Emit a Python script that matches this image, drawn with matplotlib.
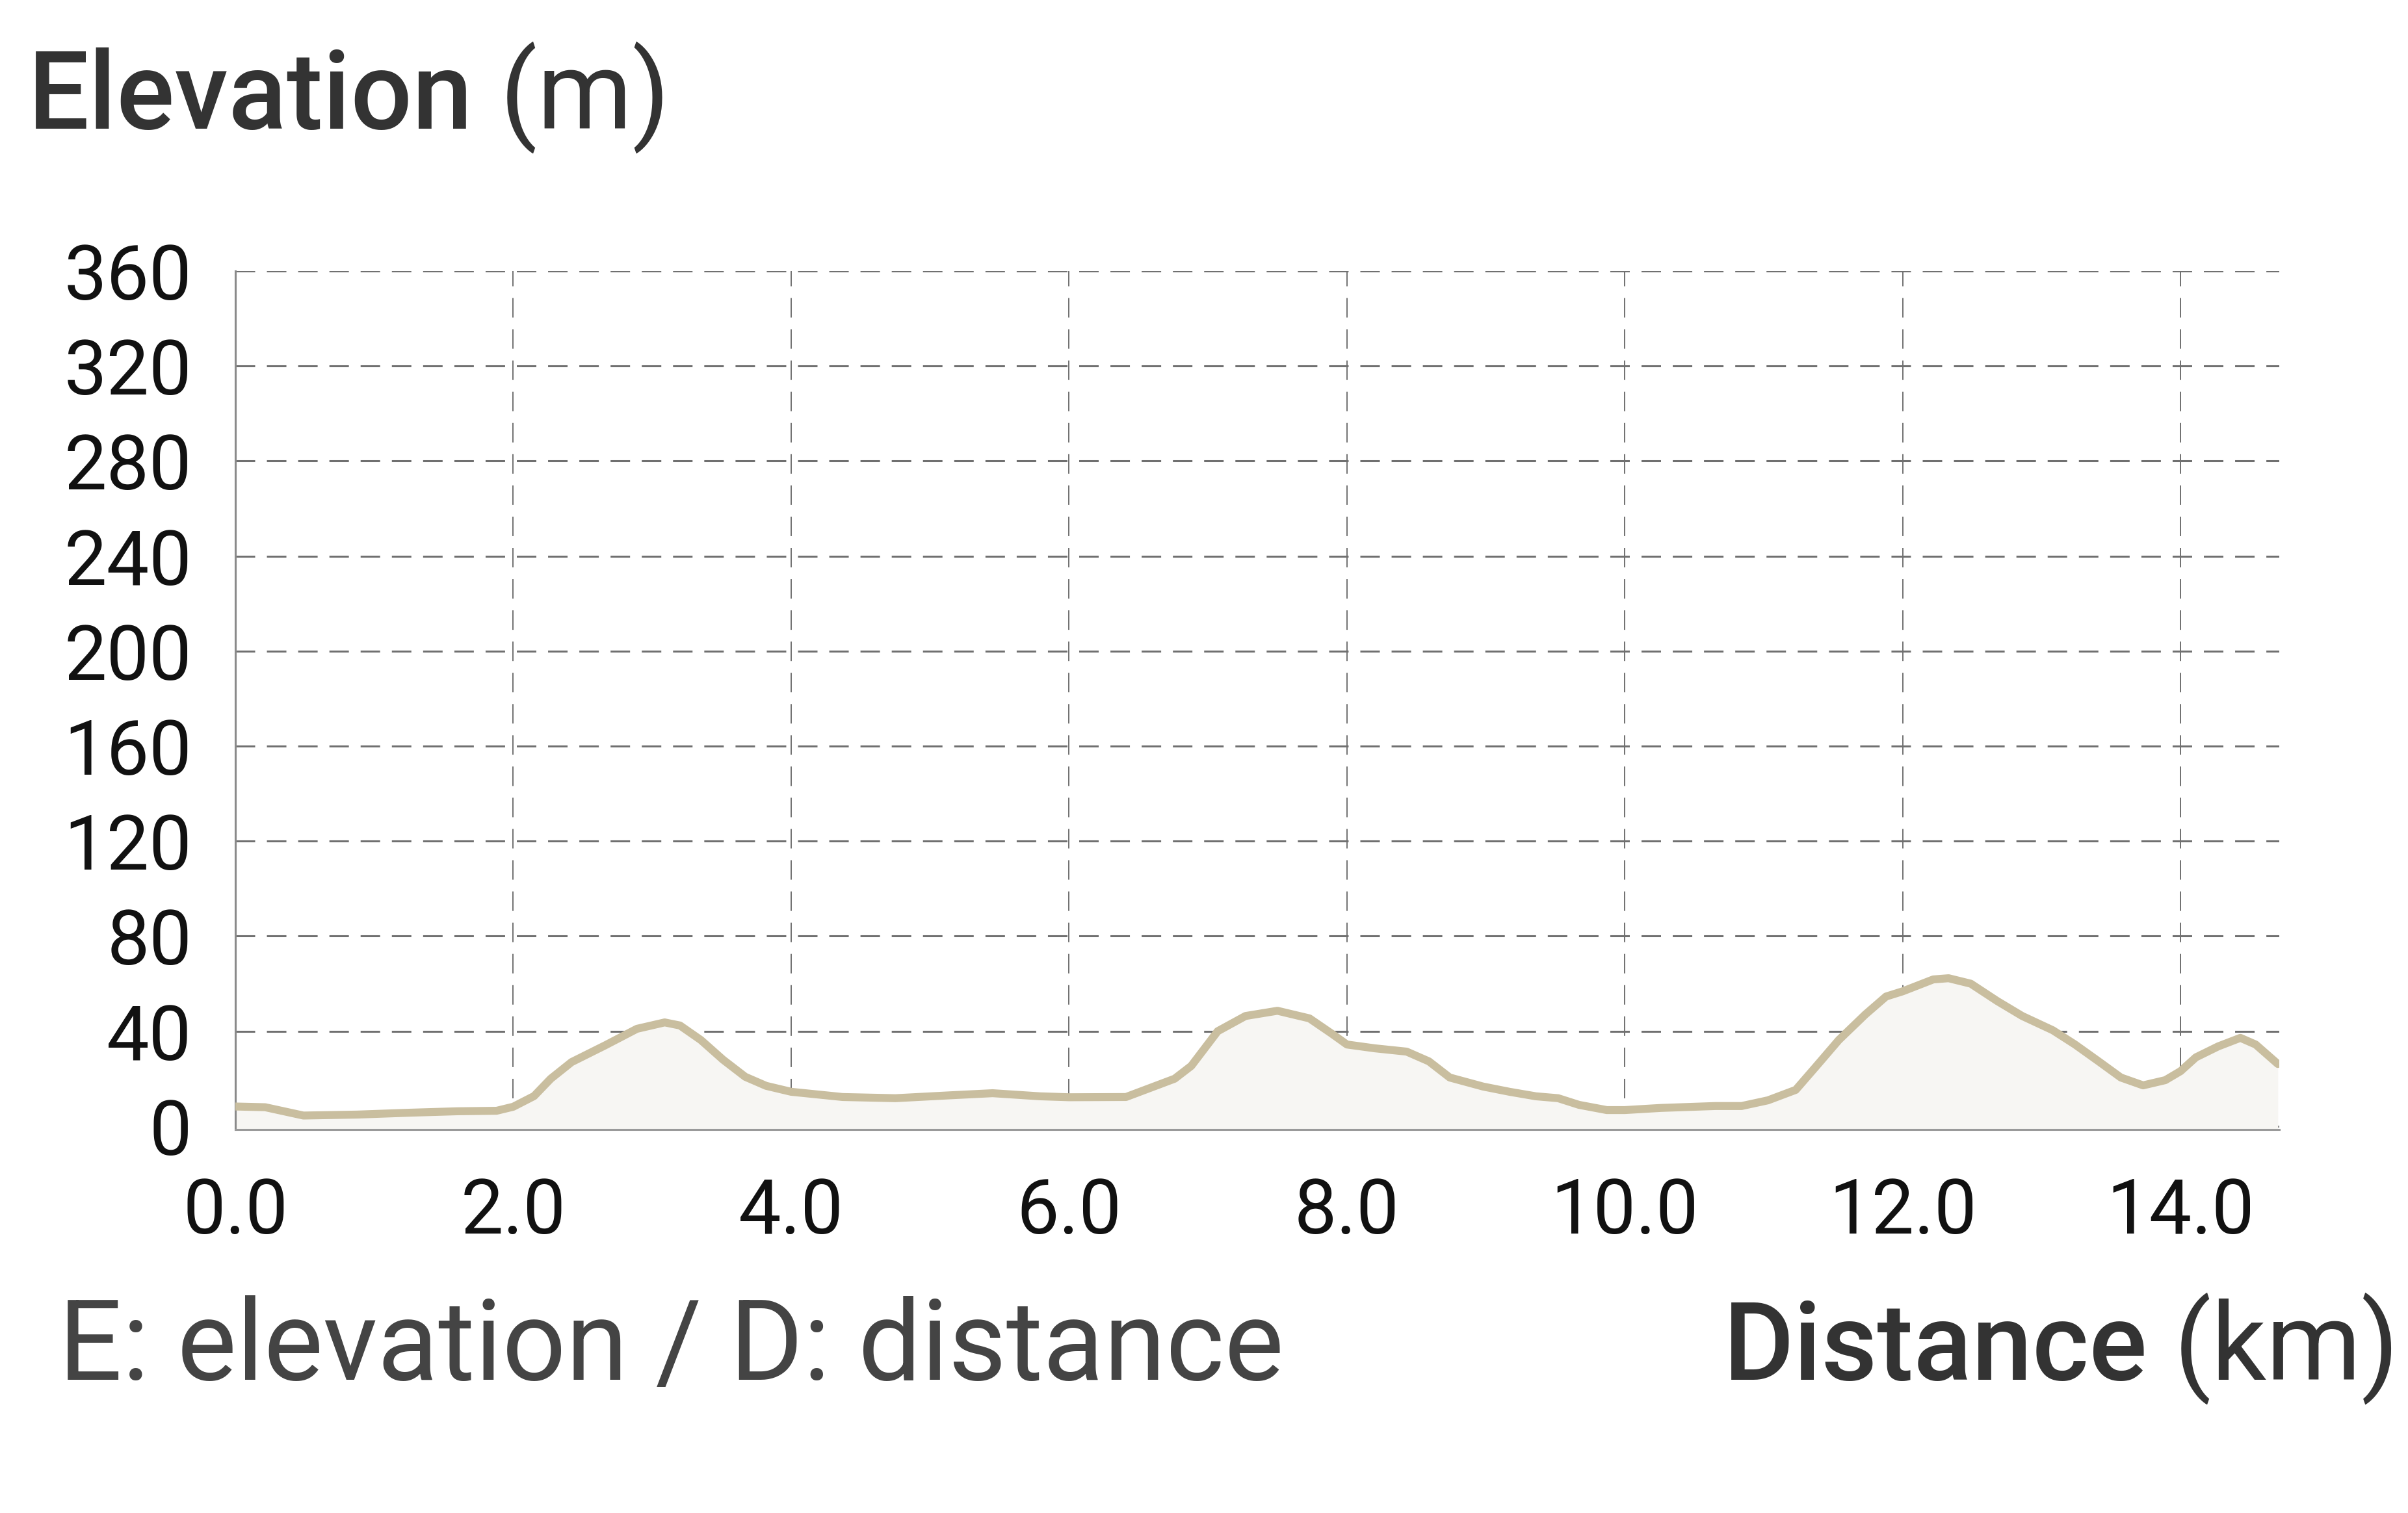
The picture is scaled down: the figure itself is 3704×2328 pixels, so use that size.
import matplotlib
matplotlib.use("Agg")
import matplotlib.pyplot as plt
from matplotlib.ticker import FixedLocator

plt.rcParams['font.family'] = ['Roboto', 'DejaVu Sans']
plt.rcParams['lines.scale_dashes'] = False

# ---- data ----
distance_km = [0.0, 0.215, 0.49, 0.875, 1.26, 1.6, 1.88, 2.0, 2.15, 2.27, 2.42, 2.66, 2.89,
               3.09, 3.2, 3.35, 3.51, 3.67, 3.82, 4.0, 4.37, 4.75, 5.14, 5.45, 5.79, 6.0,
               6.41, 6.76, 6.88, 7.07, 7.27, 7.5, 7.73, 7.89, 8.0, 8.2, 8.43, 8.59, 8.74,
               8.98, 9.17, 9.36, 9.52, 9.67, 9.87, 10.0, 10.26, 10.65, 10.84, 11.03, 11.23,
               11.38, 11.54, 11.73, 11.88, 12.0, 12.22, 12.33, 12.49, 12.68, 12.86, 13.08,
               13.24, 13.41, 13.57, 13.73, 13.89, 14.0, 14.11, 14.27, 14.43, 14.54, 14.70]
elevation_m = [8.3, 8.0, 4.5, 4.9, 5.7, 6.3, 6.5, 8.2, 12.7, 20.0, 27.0, 34.0, 41.0,
               43.7, 42.4, 36.3, 28.0, 20.8, 17.0, 14.5, 12.3, 11.8, 13.0, 13.9, 12.6, 12.2,
               12.3, 20.0, 25.4, 40.0, 46.4, 48.6, 45.4, 39.0, 34.4, 32.8, 31.4, 27.3, 20.5,
               16.7, 14.5, 12.6, 11.8, 9.0, 6.8, 6.8, 7.7, 8.5, 8.5, 10.9, 15.3,
               25.4, 36.3, 47.0, 54.6, 56.8, 61.8, 62.3, 60.0, 52.7, 46.4, 40.4,
               34.4, 27.3, 20.5, 17.2, 19.4, 23.2, 29.0, 33.6, 37.2, 34.4, 26.2]
x_ticks = [0, 2, 4, 6, 8, 10, 12, 14]
x_tick_labels = ["0.0", "2.0", "4.0", "6.0", "8.0", "10.0", "12.0", "14.0"]
y_ticks = [0, 40, 80, 120, 160, 200, 240, 280, 320, 360]

W, H, DPI = 3704, 2328, 200
fig = plt.figure(figsize=(W / DPI, H / DPI), dpi=DPI, facecolor='white')
ax = fig.add_axes([362 / W, 1 - 1738 / H, (3506 - 362) / W, (1738 - 417) / H])

ymin = -1.4
ax.fill_between(distance_km, elevation_m, ymin, color='#f7f6f3', lw=0, zorder=1)
ax.plot(distance_km, elevation_m, color='#c9be9f', lw=4.4, solid_capstyle='round',
        solid_joinstyle='round', zorder=3)

ax.set_xlim(0, 14.71)
ax.set_ylim(ymin, 360)
ax.xaxis.set_major_locator(FixedLocator(x_ticks))
ax.set_xticklabels(x_tick_labels)
ax.yaxis.set_major_locator(FixedLocator(y_ticks))
ax.tick_params(axis='both', length=0, labelsize=42, labelcolor='#111111')
ax.tick_params(axis='y', pad=24)
ax.tick_params(axis='x', pad=26)

ax.set_axisbelow(True)
ax.grid(axis='y', color='#707070', lw=1.1, linestyle=(0, (10.8, 6.5)), zorder=0)
ax.grid(axis='x', color='#707070', lw=0.7, linestyle=(0, (10.8, 6.5)), zorder=0)

for s in ['top', 'right']:
    ax.spines[s].set_visible(False)
ax.spines['left'].set_color('#8a8a8a')
ax.spines['left'].set_linewidth(1.1)
ax.spines['bottom'].set_color('#9a9a9a')
ax.spines['bottom'].set_linewidth(1.1)

# ---- texts ----
tc = '#333333'
fs = 62
fs_title = 60
t1 = fig.text(43 / W, 1 - 198 / H, "Elevation", fontsize=fs_title, fontweight='medium',
              color=tc, ha='left', va='baseline')
t3 = fig.text(90 / W, 1 - 2123 / H, "E: elevation / D: distance", fontsize=fs,
              color='#444444', ha='left', va='baseline')
t4 = fig.text(3690 / W, 1 - 2123 / H, " (km)", fontsize=fs_title, color=tc,
              ha='right', va='baseline')
fig.canvas.draw()
r = fig.canvas.get_renderer()
bb1 = t1.get_window_extent(r)
fig.text(bb1.x1 / W, 1 - 198 / H, " (m)", fontsize=fs_title, color=tc, ha='left', va='baseline')
bb4 = t4.get_window_extent(r)
fig.text(bb4.x0 / W, 1 - 2123 / H, "Distance", fontsize=fs_title, fontweight='medium',
         color=tc, ha='right', va='baseline')

fig.savefig("out.png", dpi=DPI, facecolor='white')
